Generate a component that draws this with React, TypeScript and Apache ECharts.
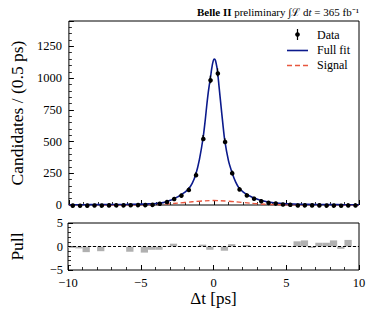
import React, { useEffect, useRef } from "react";
import * as echarts from "echarts";

const FONT = "Liberation Serif";

// bin centres (0.5 ps bins)
const binCenters = [
  -9.75, -9.25, -8.75, -8.25, -7.75, -7.25, -6.75, -6.25, -5.75, -5.25,
  -4.75, -4.25, -3.75, -3.25, -2.75, -2.25, -1.75, -1.25, -0.75, -0.25,
  0.25, 0.75, 1.25, 1.75, 2.25, 2.75, 3.25, 3.75, 4.25, 4.75,
  5.25, 5.75, 6.25, 6.75, 7.25, 7.75, 8.25, 8.75, 9.25, 9.75,
];
const dataCounts = [
  3, 3, 3, 4, 4, 5, 5, 6, 6, 8,
  8, 10, 16, 30, 52, 80, 127, 242, 528, 990,
  1045, 505, 255, 130, 84, 57, 37, 24, 17, 12,
  9, 7, 6, 5, 5, 4, 4, 3, 3, 3,
];
const dataErrors = [
  2, 2, 2, 2, 2, 2, 2, 2, 2, 3,
  3, 3, 4, 5, 7, 9, 11, 16, 23, 31,
  32, 22, 16, 11, 9, 8, 6, 5, 4, 3,
  3, 3, 2, 2, 2, 2, 2, 2, 2, 2,
];
const pullValues = [
  -0.3, -0.4, -1.2, -0.1, -1.0, -0.1, 0, 0.1, -1.1, 0,
  -1.3, -0.7, -0.7, 0.1, 0.6, 0.1, 0, 0.1, 0.4, -0.7,
  -0.1, -0.9, 0.5, 0, 0.3, 0, 0, 0, -0.1, 0.3,
  0.1, 1.1, 1.3, -0.3, 0.8, 0.8, 1.3, -0.5, 1.4, -0.1,
];

const fitX = [
  -10, -9, -8, -7, -6, -5, -4.5, -4, -3.5, -3.25, -3, -2.75, -2.5, -2.25, -2,
  -1.75, -1.5, -1.25, -1, -0.75, -0.6, -0.5, -0.4, -0.3, -0.25, -0.15, -0.05,
  0.03, 0.1, 0.2, 0.25, 0.35, 0.5, 0.6, 0.75, 1, 1.25, 1.5, 1.75, 2, 2.25,
  2.5, 2.75, 3, 3.25, 3.5, 3.75, 4, 4.5, 5, 6, 7, 8, 9, 10,
];
const fitY = [
  2, 2.5, 3, 4, 5, 7, 9, 12, 19, 27, 37, 50, 64, 82, 102,
  127, 170, 242, 360, 528, 670, 780, 880, 960, 995, 1078, 1136,
  1150, 1140, 1088, 1048, 935, 765, 655, 505, 350, 255, 180, 130, 104, 84,
  69, 56, 46, 37, 30, 24, 20, 14, 10, 6, 4, 3, 2.5, 2,
];

const signalX = [-10, -7, -6, -5, -4, -3, -2, -1, 0, 1, 2, 3, 4, 5, 6, 7, 10];
const signalY = [0.2, 0.3, 0.6, 1.5, 4, 10, 20, 30, 35, 30, 20, 10, 4, 1.5, 0.6, 0.3, 0.2];

const mainYTicks = [0, 250, 500, 750, 1000, 1250];

export default function App() {
  const ref = useRef<HTMLDivElement>(null);

  useEffect(() => {
    if (!ref.current) return;
    const chart = echarts.init(ref.current, undefined, { renderer: "svg" });

    const L = 59, R = 14;
    const axisCommonX = {
      type: "value",
      min: -10,
      max: 10,
      interval: 5,
      axisLine: { show: false, onZero: false },
      axisTick: { show: true, inside: true, length: 5, lineStyle: { color: "#000", width: 1 } },
      minorTick: { show: true, splitNumber: 5, length: 3, lineStyle: { color: "#000", width: 0.8 } },
      splitLine: { show: false },
    };

    const errData = binCenters.map((x, i) => [x, dataCounts[i], dataErrors[i]]);
    const pullData = binCenters.map((x, i) => [x, pullValues[i]]);

    const option: any = {
      animation: false,
      grid: [
        { left: L, right: R, top: 21, height: 184, show: true, borderColor: "#000", borderWidth: 1, backgroundColor: "transparent" },
        { left: L, right: R, top: 223, height: 47, show: true, borderColor: "#000", borderWidth: 1, backgroundColor: "transparent" },
      ],
      xAxis: [
        { ...axisCommonX, gridIndex: 0, axisLabel: { show: false } },
        {
          ...axisCommonX,
          gridIndex: 1,
          axisLabel: {
            show: true, fontFamily: FONT, fontSize: 12.5, color: "#000", margin: 6,
            formatter: (v: number) => (v < 0 ? "\u2212" + Math.abs(v) : String(v)),
          },
          name: "\u0394t [ps]",
          nameLocation: "middle",
          nameGap: 18,
          nameTextStyle: { fontFamily: FONT, fontSize: 17, color: "#000" },
        },
      ],
      yAxis: [
        {
          type: "value", gridIndex: 0, min: 0, max: 1450, interval: 250,
          axisLine: { show: false, onZero: false },
          axisTick: { show: true, inside: true, length: 5, lineStyle: { color: "#000" } },
          minorTick: { show: true, splitNumber: 5, length: 3, lineStyle: { color: "#000", width: 0.8 } },
          splitLine: { show: false },
          axisLabel: {
            fontFamily: FONT, fontSize: 12.5, color: "#000", margin: 7,
            formatter: (v: number) => (mainYTicks.indexOf(v) >= 0 ? String(v) : ""),
          },
          name: "Candidates / (0.5 ps)",
          nameLocation: "middle",
          nameGap: 42,
          nameTextStyle: { fontFamily: FONT, fontSize: 17.5, color: "#000" },
        },
        {
          type: "value", gridIndex: 1, min: -5, max: 5, interval: 5,
          axisLine: { show: false, onZero: false },
          axisTick: { show: true, inside: true, length: 5, lineStyle: { color: "#000" } },
          minorTick: { show: true, splitNumber: 5, length: 3, lineStyle: { color: "#000", width: 0.8 } },
          splitLine: { show: false },
          axisLabel: {
            fontFamily: FONT, fontSize: 12.5, color: "#000", margin: 5,
            formatter: (v: number) => (v < 0 ? "\u2212" + Math.abs(v) : String(v)),
          },
          name: "Pull",
          nameLocation: "middle",
          nameGap: 42,
          nameTextStyle: { fontFamily: FONT, fontSize: 17.5, color: "#000" },
        },
      ],
      series: [
        {
          name: "Signal", type: "line", xAxisIndex: 0, yAxisIndex: 0,
          data: signalX.map((x, i) => [x, signalY[i]]),
          smooth: 0.4, showSymbol: false, symbol: "none",
          lineStyle: { color: "#e8573f", width: 1.4, type: [5, 3] },
          z: 2,
        },
        {
          name: "Full fit", type: "line", xAxisIndex: 0, yAxisIndex: 0,
          data: fitX.map((x, i) => [x, fitY[i]]),
          smooth: 0.3, showSymbol: false, symbol: "none",
          lineStyle: { color: "#0b1a8c", width: 1.6 },
          z: 3,
        },
        {
          name: "Data", type: "custom", xAxisIndex: 0, yAxisIndex: 0,
          data: errData,
          z: 4,
          renderItem: (params: any, api: any) => {
            const x = api.value(0), y = api.value(1), e = api.value(2);
            const p = api.coord([x, y]);
            const t = api.coord([x, y + e]);
            const b = api.coord([x, Math.max(0, y - e)]);
            return {
              type: "group",
              children: [
                { type: "line", shape: { x1: p[0], y1: t[1], x2: p[0], y2: b[1] }, style: { stroke: "#000", lineWidth: 1.2 } },
                { type: "circle", shape: { cx: p[0], cy: p[1], r: 2.3 }, style: { fill: "#000" } },
              ],
            };
          },
        },
        {
          name: "Pull", type: "custom", xAxisIndex: 1, yAxisIndex: 1,
          data: pullData,
          z: 2,
          renderItem: (params: any, api: any) => {
            const x = api.value(0), v = api.value(1);
            const a = api.coord([x - 0.25, v]);
            const b = api.coord([x + 0.25, 0]);
            return {
              type: "rect",
              shape: { x: a[0], y: Math.min(a[1], b[1]), width: b[0] - a[0], height: Math.abs(b[1] - a[1]) },
              style: { fill: "#b0b0b0" },
            };
          },
        },
        {
          name: "zero", type: "line", xAxisIndex: 1, yAxisIndex: 1,
          data: [[-10, 0], [10, 0]], showSymbol: false, symbol: "none",
          lineStyle: { color: "#000", width: 1, type: [3, 2] },
          z: 3,
        },
      ],
      graphic: [
        {
          type: "text", right: 14, top: 6,
          style: {
            text: "{b|Belle II} preliminary \u222B\u2112 d{i|t} = 365 fb\u207B\u00B9",
            fontFamily: FONT, fontSize: 11, fill: "#000",
            rich: {
              b: { fontFamily: FONT, fontSize: 11, fontWeight: "bold", fill: "#000" },
              i: { fontFamily: FONT, fontSize: 11, fontStyle: "italic", fill: "#000" },
            },
          },
        },
        // legend: Data
        { type: "line", shape: { x1: 297.5, y1: 29, x2: 297.5, y2: 40 }, style: { stroke: "#000", lineWidth: 1.2 } },
        { type: "circle", shape: { cx: 297.5, cy: 34.5, r: 2.3 }, style: { fill: "#000" } },
        { type: "text", x: 317, y: 34.5, style: { text: "Data", fontFamily: FONT, fontSize: 12, fill: "#000", verticalAlign: "middle" } },
        // legend: Full fit
        { type: "line", shape: { x1: 287, y1: 50.5, x2: 308, y2: 50.5 }, style: { stroke: "#0b1a8c", lineWidth: 1.6 } },
        { type: "text", x: 317, y: 50, style: { text: "Full fit", fontFamily: FONT, fontSize: 12, fill: "#000", verticalAlign: "middle" } },
        // legend: Signal
        { type: "line", shape: { x1: 287, y1: 65.5, x2: 308, y2: 65.5 }, style: { stroke: "#e8573f", lineWidth: 1.4, lineDash: [5, 3] } },
        { type: "text", x: 317, y: 65, style: { text: "Signal", fontFamily: FONT, fontSize: 12, fill: "#000", verticalAlign: "middle" } },
      ],
    };

    chart.setOption(option);
    return () => chart.dispose();
  }, []);

  return (
    <div
      ref={ref}
      style={{ position: "fixed", left: 0, top: 0, width: 373, height: 318, background: "#fff" }}
    />
  );
}
